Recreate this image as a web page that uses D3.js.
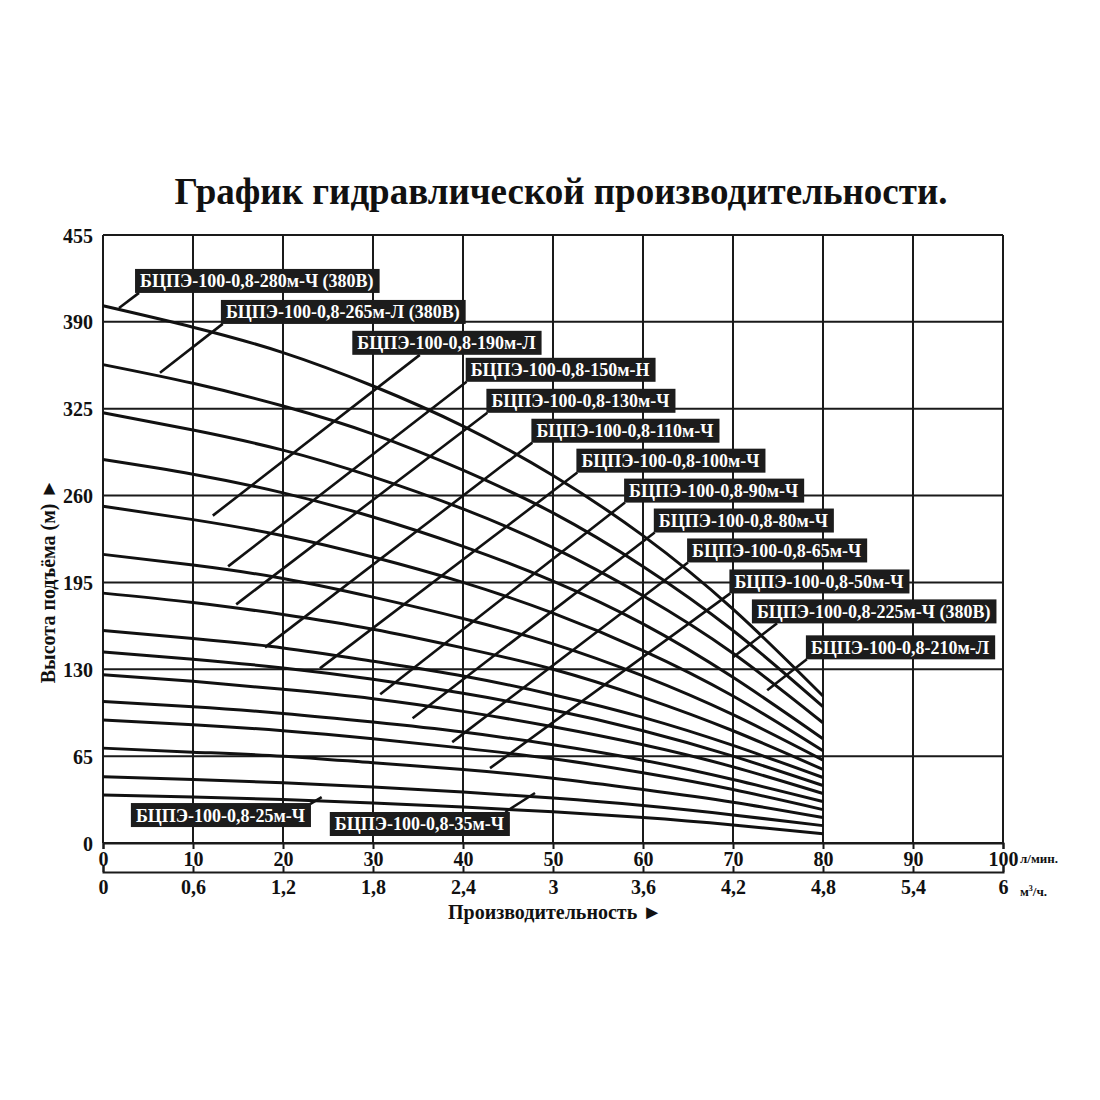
<!DOCTYPE html>
<html><head><meta charset="utf-8">
<script src="https://cdn.jsdelivr.net/npm/d3@7"></script>
<style>
body{margin:0;background:#fff}
text{font-family:"Liberation Serif","Times New Roman",serif;font-weight:bold;fill:#111}
</style>
</head><body>
<svg id="chart" width="1100" height="1100"></svg>
<script>
// ---------- DATA ----------
const flowLpm = [0,10,20,30,40,50,60,70,80];
const pumpModels = ["280м-Ч (380В)","265м-Л (380В)","225м-Ч (380В)","210м-Л","190м-Л","150м-Н","130м-Ч","110м-Ч","100м-Ч","90м-Ч","80м-Ч","65м-Ч","50м-Ч","35м-Ч","25м-Ч"];
const head280 = [402,386,367,342,312,275,230,175,110];
const head265 = [358,344,327,306,279,247,207,159,102];
const head225 = [322,309,294,274,250,221,185,142,90];
const head210 = [287,276,262,244,222,196,164,124,78];
const head190 = [252,242,230,214,195,172,144,110,69];
const head150 = [216,208,198,184,168,149,125,96,62];
const head130 = [187,180,171,160,146,130,109,84,55];
const head110 = [159,153,146,136,125,111,94,73,49];
const head100 = [143,137.5,131,122.5,112,99.5,84,65,43];
const head90  = [126,121,115,108,98.5,87,73.5,57,37];
const head80  = [106,102,97,90.5,83,73.5,62,47.5,31];
const head65  = [92,88.5,84,78,71,63,52.5,40,25];
const head50  = [71,68,65,60,55,48.5,40,30.5,19];
const head35  = [49.5,47.5,45,42,38.2,33.6,28,21,13];
const head25  = [36,34.5,32.5,30,27,23.3,19,13.5,7];
const headCurves = [head280,head265,head225,head210,head190,head150,head130,head110,head100,head90,head80,head65,head50,head35,head25];

const xTicksLpm = [0,10,20,30,40,50,60,70,80,90,100];
const xTicksM3h = [0,0.6,1.2,1.8,2.4,3,3.6,4.2,4.8,5.4,6];
const yTicks = [0,65,130,195,260,325,390,455];

// label annotations (data units: flow l/min, head m)
const labelNames = ["БЦПЭ-100-0,8-280м-Ч (380В)","БЦПЭ-100-0,8-265м-Л (380В)","БЦПЭ-100-0,8-190м-Л","БЦПЭ-100-0,8-150м-Н","БЦПЭ-100-0,8-130м-Ч","БЦПЭ-100-0,8-110м-Ч","БЦПЭ-100-0,8-100м-Ч","БЦПЭ-100-0,8-90м-Ч","БЦПЭ-100-0,8-80м-Ч","БЦПЭ-100-0,8-65м-Ч","БЦПЭ-100-0,8-50м-Ч","БЦПЭ-100-0,8-225м-Ч (380В)","БЦПЭ-100-0,8-210м-Л","БЦПЭ-100-0,8-25м-Ч","БЦПЭ-100-0,8-35м-Ч"];
const labelCorner = [[3.56,429.6],[13.1,406.4],[27.7,383.3],[40.3,363.1],[42.6,339.9],[47.6,317.5],[52.6,295.1],[57.9,272.7],[61.2,250.3],[64.9,227.9],[69.6,204.7],[72.1,182.3],[78.1,155.4],[3.1,29.9],[25.2,23.2]];
const leaderStart = [[4.0,411.7],[13.3,388.5],[35.2,365.3],[40.4,345.2],[42.7,322],[47.7,299.6],[52.7,277.2],[58,254.8],[61.3,232.4],[65,209.9],[69.7,186.8],[74.9,164.4],[78.2,137.5],[23,29.1],[44.7,23.2]];
const leaderEnd = [[1.78,400.4],[6.33,351.9],[12.2,245],[13.9,207],[14.8,178.6],[18,146.4],[24.1,130.7],[30.8,111.3],[34.4,93.4],[38.8,75.5],[43,56],[70,139],[73.8,114.3],[24.3,34.4],[48,37.4]];

// ---------- DRAW ----------
const svg = d3.select("#chart");
const L = 103, R = 1003, T = 235, B = 843;
const x = d3.scaleLinear().domain([0,100]).range([L,R]);
const xm = d3.scaleLinear().domain([0,6]).range([L,R]);
const y = d3.scaleLinear().domain([0,455]).range([B,T]);

svg.append("text").attr("x",561).attr("y",204).attr("text-anchor","middle")
  .style("font-size","37px").text("График гидравлической производительности.");

// grid
const g = svg.append("g");
g.selectAll(".vg").data(xTicksLpm).join("line")
  .attr("x1",d=>x(d)).attr("x2",d=>x(d)).attr("y1",T).attr("y2",B)
  .attr("stroke","#1a1a1a").attr("stroke-width",2);
g.selectAll(".hg").data(yTicks).join("line")
  .attr("x1",L).attr("x2",R).attr("y1",d=>y(d)).attr("y2",d=>y(d))
  .attr("stroke","#1a1a1a").attr("stroke-width",2);

// curves
const line = d3.line().x((d,i)=>x(flowLpm[i])).y(d=>y(d)).curve(d3.curveNatural);
svg.append("g").selectAll("path").data(headCurves).join("path")
  .attr("d",line).attr("fill","none").attr("stroke","#111").attr("stroke-width",3);

// leaders
svg.append("g").selectAll("line").data(leaderStart).join("line")
  .attr("x1",d=>x(d[0])).attr("y1",d=>y(d[1]))
  .attr("x2",(d,i)=>x(leaderEnd[i][0])).attr("y2",(d,i)=>y(leaderEnd[i][1]))
  .attr("stroke","#111").attr("stroke-width",2.6);

// labels
const lg = svg.append("g").selectAll("g").data(labelNames).join("g")
  .attr("transform",(d,i)=>`translate(${x(labelCorner[i][0])},${y(labelCorner[i][1])})`);
lg.append("rect").attr("height",24).attr("fill","#1c1c1c");
const lt = lg.append("text").attr("x",5).attr("y",18.5).style("font-size","18px").style("fill","#fff").text(d=>d);
lt.each(function(){
  const w = this.getComputedTextLength();
  d3.select(this.parentNode).select("rect").attr("width",w+11);
});

// axes
const fmt = d => d3.format(".1~f")(d).replace(".",",");
const ax1 = svg.append("g").attr("transform",`translate(0,${B})`)
  .call(d3.axisBottom(x).tickValues(xTicksLpm).tickSize(6).tickPadding(3));
const ax2 = svg.append("g").attr("transform",`translate(0,872)`)
  .call(d3.axisBottom(xm).tickValues(xTicksM3h).tickFormat(fmt).tickSize(-6).tickPadding(8));
const ay = svg.append("g").attr("transform",`translate(${L},0)`)
  .call(d3.axisLeft(y).tickValues(yTicks).tickSize(0).tickPadding(10));
[ax1,ax2,ay].forEach(a=>{
  a.selectAll("text").style("font-size","20px").style("font-family","'Liberation Serif',serif").style("font-weight","bold").attr("fill","#111");
  a.selectAll("line").attr("stroke","#1a1a1a").attr("stroke-width",2);
  a.select(".domain").attr("stroke","#1a1a1a").attr("stroke-width",2);
});
ay.select(".domain").remove();
ay.selectAll("text").attr("dy","0.35em");

svg.append("text").attr("x",1020).attr("y",863).style("font-size","13px").text("л/мин.");
svg.append("text").attr("x",1020).attr("y",896).style("font-size","13px").html("м<tspan dy='-5' style='font-size:8px'>3</tspan><tspan dy='5'>/ч.</tspan>");
svg.append("text").attr("x",555).attr("y",919).attr("text-anchor","middle").style("font-size","20px").text("Производительность ►");
svg.append("text").attr("transform","translate(55,581) rotate(-90)").attr("text-anchor","middle").style("font-size","20px").text("Высота подъёма (м) ►");
</script>
</body></html>
